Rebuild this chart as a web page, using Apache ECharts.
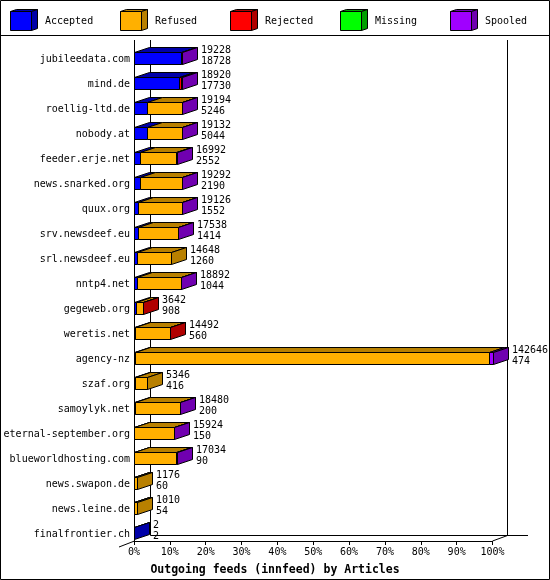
<!DOCTYPE html>
<html><head><meta charset="utf-8">
<script src="https://cdn.jsdelivr.net/npm/echarts@6/dist/echarts.min.js"></script>
<style>html,body{margin:0;padding:0;background:#fff}#c{width:550px;height:580px}</style>
</head><body><div id="c"></div>
<script>
const hosts = ['jubileedata.com','mind.de','roellig-ltd.de','nobody.at','feeder.erje.net','news.snarked.org','quux.org','srv.newsdeef.eu','srl.newsdeef.eu','nntp4.net','gegeweb.org','weretis.net','agency-nz','szaf.org','samoylyk.net','eternal-september.org','blueworldhosting.com','news.swapon.de','news.leine.de','finalfrontier.ch'];
const offered  = [19228,18920,19194,19132,16992,19292,19126,17538,14648,18892,3642,14492,142646,5346,18480,15924,17034,1176,1010,2];
const accepted = [18728,17730,5246,5044,2552,2190,1552,1414,1260,1044,908,560,474,416,200,150,90,60,54,2];
const refused  = [0,0,13700,13900,14300,17000,17450,16000,13388,17700,2500,13700,140702,4930,18100,15600,16800,1116,956,0];
const rejected = [0,800,0,0,0,0,0,0,0,0,234,232,0,0,0,0,0,0,0,0];
const missing  = [0,0,0,0,0,0,0,0,0,0,0,0,0,0,0,0,0,0,0,0];
const spooled  = [500,390,248,188,140,102,124,124,0,148,0,0,1470,0,180,174,144,0,0,0];
const seriesNames = ['Accepted','Refused','Rejected','Missing','Spooled'];
const xTicks = [0,10,20,30,40,50,60,70,80,90,100];
const axisTitle = 'Outgoing feeds (innfeed) by Articles';

const frontColors = ['#0000ff','#ffb000','#ff0000','#00ff00','#a000ff'];
const darkColors  = ['#0000a8','#b88000','#b00000','#00a000','#7000b0'];
const FONT = '"DejaVu Sans Mono","Liberation Mono",monospace';
const DX = 15, DY = -5, FH = 12;

const segs = [accepted, refused, rejected, missing, spooled];
const maxTotal = Math.max(...offered);
const pct = v => v / maxTotal * 100;

const seriesData = segs.map(() => []);
hosts.forEach((h, i) => {
  let cum = 0, lastK = -1;
  segs.forEach((arr, k) => { if (arr[i] > 0) lastK = k; });
  segs.forEach((arr, k) => {
    const s = cum; cum += arr[i];
    if (arr[i] > 0) seriesData[k].push([i, pct(s), pct(cum), k === lastK ? 1 : 0]);
  });
});

function renderSeg(k) {
  return function (params, api) {
    const i = api.value(0);
    const a = api.coord([api.value(1), i]);
    const b = api.coord([api.value(2), i]);
    const last = api.value(3);
    const x0 = Math.round(a[0]) + 0.5, x1 = Math.round(b[0]) + 0.5;
    const yt = Math.round(a[1]) - 6.5, yb = yt + FH;
    const st = { stroke: '#000', lineWidth: 1 };
    const children = [
      { type: 'polygon', shape: { points: [[x0, yt], [x1, yt], [x1 + DX, yt + DY], [x0 + DX, yt + DY]] },
        style: Object.assign({ fill: darkColors[k] }, st) },
      { type: 'rect', shape: { x: x0, y: yt, width: x1 - x0, height: FH },
        style: Object.assign({ fill: frontColors[k] }, st) }
    ];
    if (last) children.push({ type: 'polygon',
      shape: { points: [[x1, yt], [x1 + DX, yt + DY], [x1 + DX, yb + DY], [x1, yb]] },
      style: Object.assign({ fill: darkColors[k] }, st) });
    return { type: 'group', children };
  };
}

function renderLabel(params, api) {
  const i = api.value(0);
  const p = api.coord([api.value(1), i]);
  const x = Math.round(p[0]) + DX + 4;
  const y = Math.round(p[1]);
  const ts = { fill: '#000', font: '10px ' + FONT, align: 'left', verticalAlign: 'middle' };
  return { type: 'group', children: [
    { type: 'text', style: Object.assign({ text: String(offered[i]), x: x, y: y - 9 }, ts) },
    { type: 'text', style: Object.assign({ text: String(accepted[i]), x: x, y: y + 2.5 }, ts) }
  ]};
}

const series = seriesNames.map((n, k) => ({
  type: 'custom', name: n, renderItem: renderSeg(k), data: seriesData[k],
  encode: { x: [1, 2], y: 0 }, z: 2 + k
}));
series.push({ type: 'custom', name: 'labels', renderItem: renderLabel,
  data: hosts.map((h, i) => [i, pct(offered[i]), offered[i], accepted[i]]),
  encode: { x: 1, y: 0 }, z: 10 });

const graphic = [
  { type: 'rect', shape: { x: 0.5, y: 0.5, width: 549, height: 579 }, style: { fill: 'none', stroke: '#000', lineWidth: 1 } },
  { type: 'line', shape: { x1: 0, y1: 35.5, x2: 550, y2: 35.5 }, style: { stroke: '#000', lineWidth: 1 } },
  { type: 'line', shape: { x1: 134.5, y1: 40, x2: 134.5, y2: 541 }, style: { stroke: '#000', lineWidth: 1 } },
  { type: 'line', shape: { x1: 150.5, y1: 40, x2: 150.5, y2: 535.5 }, style: { stroke: '#000', lineWidth: 1 } },
  { type: 'line', shape: { x1: 507.5, y1: 40, x2: 507.5, y2: 535.5 }, style: { stroke: '#000', lineWidth: 1 } },
  { type: 'line', shape: { x1: 150.5, y1: 535.5, x2: 528, y2: 535.5 }, style: { stroke: '#000', lineWidth: 1 } },
  { type: 'line', shape: { x1: 492.5, y1: 541, x2: 507.5, y2: 535.5 }, style: { stroke: '#000', lineWidth: 1 } },
  { type: 'line', shape: { x1: 134.5, y1: 541, x2: 119, y2: 547 }, style: { stroke: '#000', lineWidth: 1 } }
];
seriesNames.forEach((n, k) => {
  const x = 10.5 + 110 * k, y = 11.5, w = 21, h = 19, dx = 6, dy = -2;
  graphic.push(
    { type: 'polygon', shape: { points: [[x, y], [x + w, y], [x + w + dx, y + dy], [x + dx, y + dy]] }, style: { fill: darkColors[k], stroke: '#000', lineWidth: 1 } },
    { type: 'polygon', shape: { points: [[x + w, y], [x + w + dx, y + dy], [x + w + dx, y + h + dy], [x + w, y + h]] }, style: { fill: darkColors[k], stroke: '#000', lineWidth: 1 } },
    { type: 'rect', shape: { x: x, y: y, width: w, height: h }, style: { fill: frontColors[k], stroke: '#000', lineWidth: 1 } },
    { type: 'text', style: { text: n, x: x + 34.5, y: 21, fill: '#000', font: '10px ' + FONT, align: 'left', verticalAlign: 'middle' } }
  );
});

const chart = echarts.init(document.getElementById('c'), null, { renderer: 'canvas' });
chart.setOption({
  animation: false,
  backgroundColor: '#fff',
  title: { text: axisTitle, left: 'center', top: 564, padding: 0,
    textStyle: { fontFamily: FONT, fontWeight: 'bold', fontSize: 11.5, color: '#000' } },
  grid: { left: 134, right: 57.5, top: 46.5, bottom: 33.5, outerBoundsMode: 'none' },
  xAxis: { type: 'value', min: xTicks[0], max: xTicks[xTicks.length - 1], interval: xTicks[1] - xTicks[0], offset: -5.5,
    axisLine: { show: true, lineStyle: { color: '#000', width: 1 } },
    axisTick: { show: true, length: 4, lineStyle: { color: '#000' } },
    splitLine: { show: false },
    axisLabel: { formatter: '{value}%', margin: 6, color: '#000', fontFamily: FONT, fontSize: 10 } },
  yAxis: { type: 'category', data: hosts, inverse: true,
    axisLine: { show: false }, axisTick: { show: false }, splitLine: { show: false },
    axisLabel: { margin: 4, color: '#000', fontFamily: FONT, fontSize: 10 } },
  graphic: graphic,
  series: series
});
</script></body></html>
